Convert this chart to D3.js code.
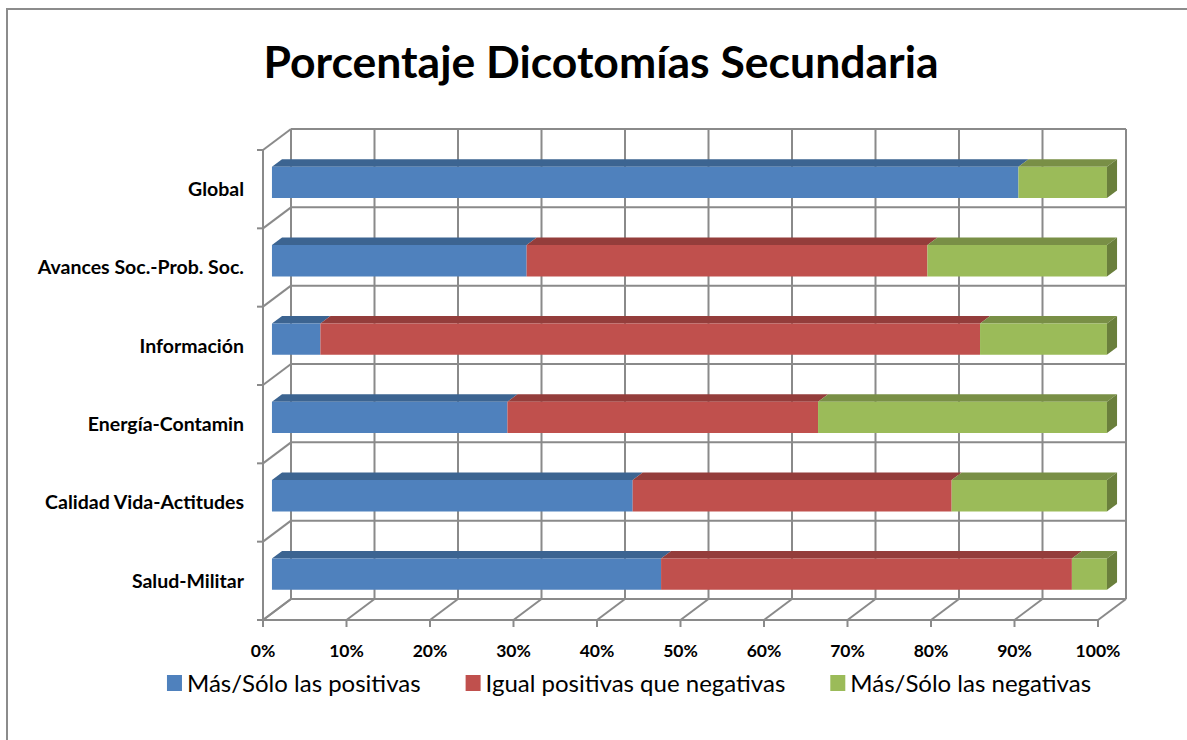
<!DOCTYPE html>
<html>
<head>
<meta charset="utf-8">
<script src="https://cdn.jsdelivr.net/npm/d3@7"></script>
<style>
  body { margin: 0; background: #fff; }
</style>
</head>
<body>
<div id="chart"></div>
<script>
// Data
var categories = ["Global", "Avances Soc.-Prob. Soc.", "Información", "Energía-Contamin", "Calidad Vida-Actitudes", "Salud-Militar"];
var seriesNames = ["Más/Sólo las positivas", "Igual positivas que negativas", "Más/Sólo las negativas"];
var positivas = [89.4, 30.5, 5.8, 28.2, 43.2, 46.6];
var iguales   = [0, 48.0, 79.0, 37.2, 38.2, 49.2];
var negativas = [10.6, 21.5, 15.2, 34.6, 18.6, 4.2];
var xTicks = [0, 10, 20, 30, 40, 50, 60, 70, 80, 90, 100];

// colours: front, top, side
var frontColors = ['#4f81bd', '#c0504d', '#9bbb59'];
var topColors = ['#3c6491', '#943d3b', '#798f46'];
var sideColors = ['#355a85', '#833533', '#6a7f3c'];

var width = 1187, height = 740;
var svg = d3.select('#chart').append('svg')
  .attr('width', width)
  .attr('height', height)
  .attr('font-family', 'Lato');

svg.append('rect')
  .attr('x', 7).attr('y', 9)
  .attr('width', 1200).attr('height', 760)
  .attr('fill', 'white')
  .attr('stroke', '#8c8c8c')
  .attr('stroke-width', 2);

// 3D depth offset (front -> back)
var DX = 28, DY = -21;

var x = d3.scaleLinear().domain([0, 100]).range([263, 1098]);
var y = d3.scaleBand().domain(categories).range([150, 620]);
var bounds = categories.map(c => y(c)).concat([620]);

var gridColor = '#8a8a8a';
var grid = svg.append('g')
  .attr('stroke', gridColor)
  .attr('stroke-width', 2)
  .attr('fill', 'none');

// back wall verticals
grid.selectAll('.bv').data(xTicks).join('line')
  .attr('x1', d => x(d) + DX).attr('x2', d => x(d) + DX)
  .attr('y1', 150 + DY).attr('y2', 620 + DY);
// back wall horizontals
grid.selectAll('.bh').data(bounds).join('line')
  .attr('x1', x(0) + DX).attr('x2', x(100) + DX)
  .attr('y1', d => d + DY).attr('y2', d => d + DY);
// left wall diagonals
grid.selectAll('.ld').data(bounds).join('line')
  .attr('x1', x(0)).attr('x2', x(0) + DX)
  .attr('y1', d => d).attr('y2', d => d + DY);
// floor diagonals
grid.selectAll('.fd').data(xTicks).join('line')
  .attr('x1', d => x(d)).attr('x2', d => x(d) + DX)
  .attr('y1', 620).attr('y2', 620 + DY);
// front axis lines
grid.append('line').attr('x1', x(0)).attr('x2', x(0)).attr('y1', 150).attr('y2', 620);
grid.append('line').attr('x1', x(0)).attr('x2', x(100)).attr('y1', 620).attr('y2', 620);
// tick marks
grid.selectAll('.lt').data(bounds).join('line')
  .attr('x1', x(0) - 6).attr('x2', x(0))
  .attr('y1', d => d).attr('y2', d => d);
grid.selectAll('.bt').data(xTicks).join('line')
  .attr('x1', d => x(d)).attr('x2', d => x(d))
  .attr('y1', 620).attr('y2', 627);

// stacked 3D bars
var stackData = categories.map((c, i) => ({cat: c, positivas: positivas[i], iguales: iguales[i], negativas: negativas[i]}));
var stack = d3.stack().keys(['positivas', 'iguales', 'negativas'])(stackData);

var t1 = 0.32, t2 = 0.68;
var half = y.bandwidth() * 0.2;
function P(xv, yv, t) { return [xv + t * DX, yv + t * DY]; }

var bars = svg.append('g');
categories.forEach(function (c, ci) {
  var yc = y(c) + y.bandwidth() / 2;
  var yTop = yc - half, yBot = yc + half;
  var segs = stack.map((s, si) => ({si: si, v0: s[ci][0], v1: s[ci][1]})).filter(d => d.v1 - d.v0 > 0);
  segs.forEach(function (d, k) {
    var x0 = x(d.v0), x1 = x(d.v1);
    var g = bars.append('g');
    g.append('polygon')
      .attr('points', [P(x0, yTop, t1), P(x1, yTop, t1), P(x1, yTop, t2), P(x0, yTop, t2)].map(p => p.join(',')).join(' '))
      .attr('fill', topColors[d.si]);
    g.append('polygon')
      .attr('points', [P(x0, yTop, t1), P(x1, yTop, t1), P(x1, yBot, t1), P(x0, yBot, t1)].map(p => p.join(',')).join(' '))
      .attr('fill', frontColors[d.si]);
    if (k === segs.length - 1) {
      g.append('polygon')
        .attr('points', [P(x1, yTop, t1), P(x1, yTop, t2), P(x1, yBot, t2), P(x1, yBot, t1)].map(p => p.join(',')).join(' '))
        .attr('fill', sideColors[d.si]);
    }
  });
});

// category labels
svg.append('g')
  .selectAll('text')
  .data(categories)
  .join('text')
  .attr('x', 244)
  .attr('y', d => y(d) + y.bandwidth() / 2)
  .attr('dy', '0.35em')
  .attr('text-anchor', 'end')
  .attr('font-weight', '700')
  .attr('font-size', '19.5px')
  .attr('fill', '#000')
  .text(d => d);

// x tick labels
svg.append('g')
  .selectAll('text')
  .data(xTicks)
  .join('text')
  .attr('x', d => x(d))
  .attr('y', 657)
  .attr('text-anchor', 'middle')
  .attr('font-weight', '700')
  .attr('font-size', '17.5px')
  .attr('fill', '#000')
  .text(d => d + '%');

// title
svg.append('text')
  .attr('x', 601)
  .attr('y', 78)
  .attr('text-anchor', 'middle')
  .attr('font-weight', '700')
  .attr('font-size', '44.5px')
  .attr('fill', '#000')
  .text('Porcentaje Dicotomías Secundaria');

// legend
var legend = svg.append('g').attr('font-size', '24px');
var items = legend.selectAll('g').data(seriesNames).join('g');
items.append('rect')
  .attr('width', 15).attr('height', 16)
  .attr('y', 675)
  .attr('fill', (d, i) => frontColors[i]);
items.append('text')
  .attr('x', 20)
  .attr('y', 692)
  .attr('fill', '#000')
  .text(d => d);
var widths = [];
items.each(function () { widths.push(this.getBBox().width); });
var gap = 45;
var total = d3.sum(widths) + gap * (widths.length - 1);
var cursor = 629 - total / 2;
items.attr('transform', function (d, i) {
  var tx = cursor; cursor += widths[i] + gap;
  return `translate(${tx},0)`;
});
</script>
</body>
</html>
